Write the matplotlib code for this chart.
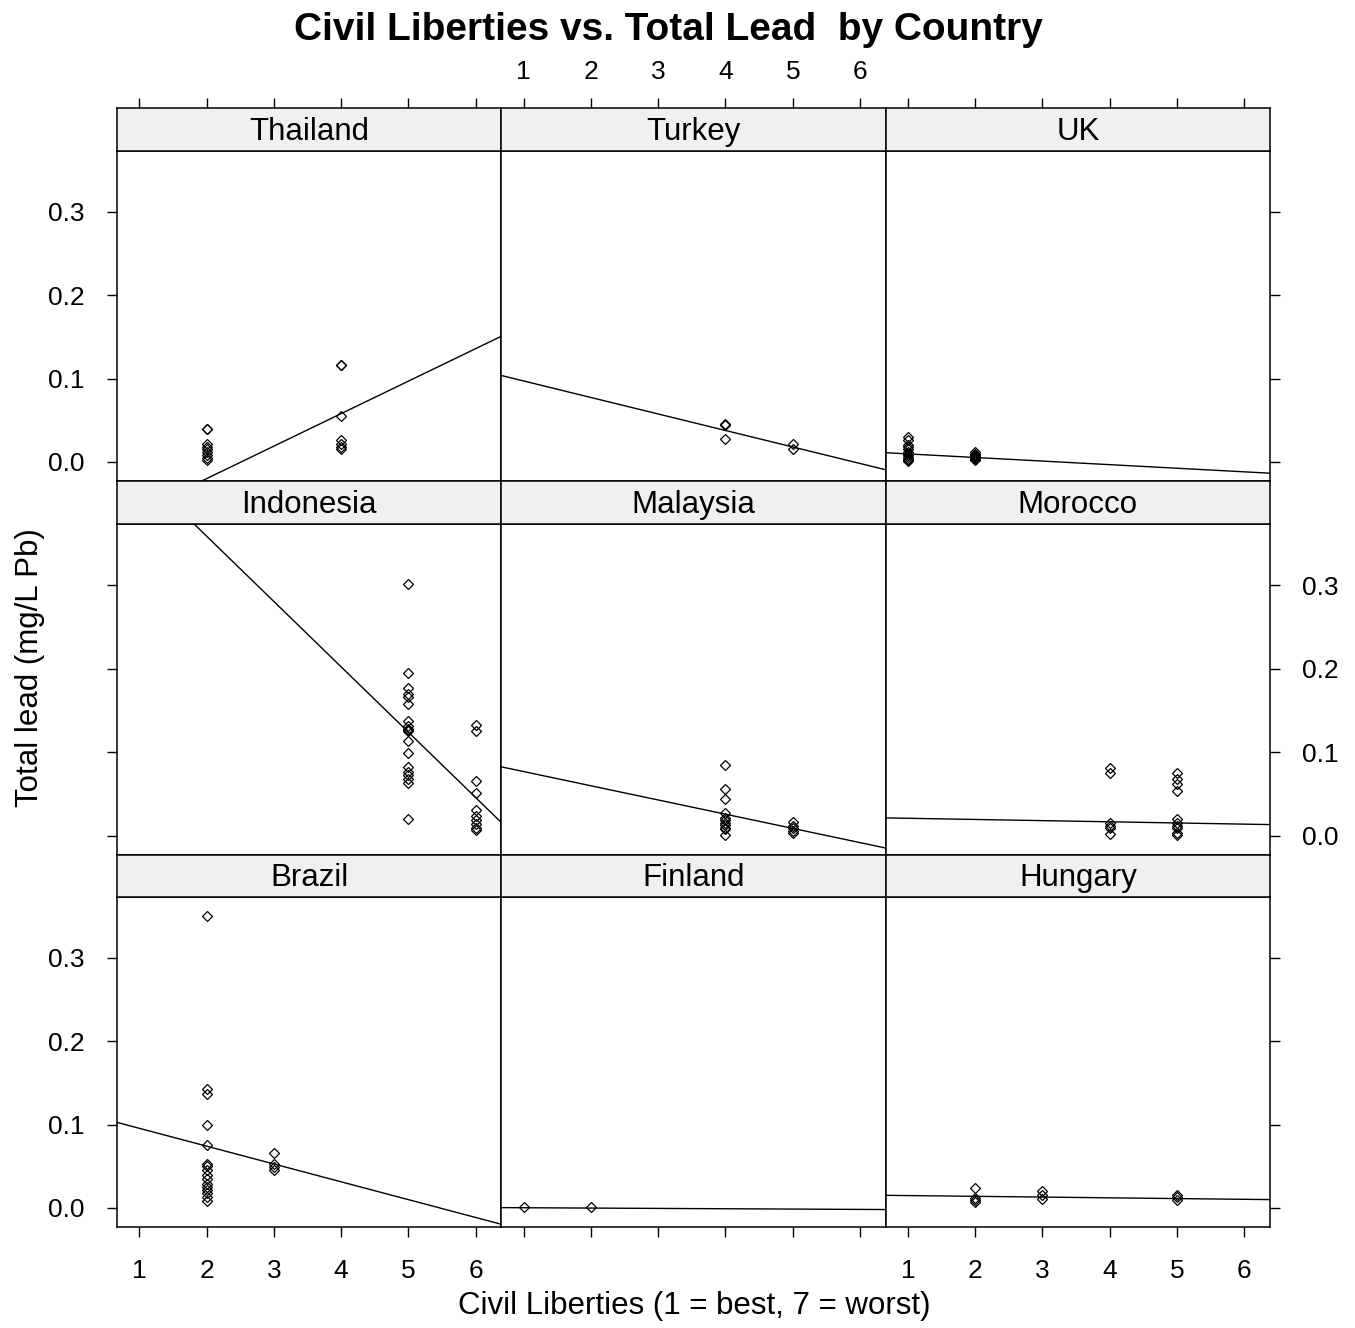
import matplotlib

matplotlib.use("Agg")

import matplotlib.pyplot as plt


plt.rcParams["font.family"] = ["Liberation Sans", "DejaVu Sans"]


# ==================================================
# DATA
# ==================================================

countries = [
    "Thailand", "Turkey", "UK",
    "Indonesia", "Malaysia", "Morocco",
    "Brazil", "Finland", "Hungary",
]

thailand_x = [2, 2, 2, 2, 2, 2, 2, 2, 2, 4, 4, 4, 4, 4, 4, 4]
thailand_y = [0.040, 0.040, 0.022, 0.018, 0.015, 0.012, 0.008, 0.005, 0.002,
              0.116, 0.116, 0.055, 0.026, 0.022, 0.018, 0.016]

turkey_x = [4, 4, 4, 5, 5]
turkey_y = [0.046, 0.044, 0.027, 0.022, 0.015]

uk_x = [1, 1, 1, 1, 1, 1, 1, 1, 1, 1, 1, 1,
        2, 2, 2, 2, 2, 2, 2, 2, 2]
uk_y = [0.030, 0.026, 0.020, 0.018, 0.015, 0.012, 0.010, 0.008, 0.006, 0.004, 0.002, 0.001,
        0.012, 0.010, 0.008, 0.007, 0.006, 0.005, 0.004, 0.003, 0.002]

indonesia_x = [5, 5, 5, 5, 5, 5, 5, 5, 5, 5, 5, 5, 5, 5, 5, 5, 5, 5, 5,
               6, 6, 6, 6, 6, 6, 6, 6, 6, 6]
indonesia_y = [0.301, 0.195, 0.177, 0.170, 0.166, 0.158, 0.138, 0.131, 0.128, 0.127,
               0.125, 0.113, 0.099, 0.083, 0.077, 0.073, 0.068, 0.063, 0.020,
               0.133, 0.126, 0.066, 0.051, 0.031, 0.024, 0.019, 0.014, 0.010, 0.007]

malaysia_x = [4, 4, 4, 4, 4, 4, 4, 4, 4, 4, 4, 5, 5, 5, 5, 5]
malaysia_y = [0.085, 0.056, 0.044, 0.028, 0.022, 0.019, 0.016, 0.013, 0.010, 0.008, 0.001,
              0.017, 0.012, 0.009, 0.006, 0.004]

morocco_x = [4, 4, 4, 4, 4, 4, 5, 5, 5, 5, 5, 5, 5, 5, 5, 5]
morocco_y = [0.081, 0.075, 0.016, 0.012, 0.009, 0.002,
             0.075, 0.068, 0.062, 0.054, 0.020, 0.016, 0.012, 0.009, 0.004, 0.001]

brazil_x = [2, 2, 2, 2, 2, 2, 2, 2, 2, 2, 2, 2, 2, 2, 2, 2, 3, 3, 3, 3]
brazil_y = [0.350, 0.143, 0.137, 0.100, 0.076, 0.053, 0.050, 0.045, 0.039, 0.035,
            0.029, 0.025, 0.021, 0.018, 0.013, 0.008,
            0.066, 0.053, 0.049, 0.045]

finland_x = [1, 2]
finland_y = [0.001, 0.001]

hungary_x = [2, 2, 2, 2, 3, 3, 3, 5, 5, 5]
hungary_y = [0.024, 0.012, 0.009, 0.007, 0.020, 0.016, 0.011, 0.016, 0.013, 0.010]

panel_x = [thailand_x, turkey_x, uk_x, indonesia_x, malaysia_x,
           morocco_x, brazil_x, finland_x, hungary_x]
panel_y = [thailand_y, turkey_y, uk_y, indonesia_y, malaysia_y,
           morocco_y, brazil_y, finland_y, hungary_y]

# least squares lines as drawn in the reference
fit_intercept = [-0.098, 0.117, 0.014, 0.515, 0.094, 0.0225, 0.117, 0.0007, 0.0158]
fit_slope = [0.039, -0.0198, -0.0043, -0.0782, -0.0170, -0.0014, -0.0214, -0.0004, -0.0009]

x_ticks = [1, 2, 3, 4, 5, 6]
y_ticks = [0.0, 0.1, 0.2, 0.3]
y_tick_labels = ["0.0", "0.1", "0.2", "0.3"]


# ==================================================
# LAYOUT
# ==================================================

W, H = 1355, 1328

fig = plt.figure(figsize=(W / 100, H / 100), dpi=100)

grid_left = 117
col_width = (1270 - 117) / 3

strip_top = [108, 481, 855]
panel_top = [151, 524, 897]
panel_bottom = [481, 855, 1227]

XLIM = (0.67, 6.38)
YLIM = (-0.0228, 0.373)

TICK_LEN = 7.2
TICK_SIZE = 19
STRIP_SIZE = 22.5


def _frac(left, top, width, height):
    return [left / W, 1 - (top + height) / H, width / W, height / H]


for i, name in enumerate(countries):

    row, col = divmod(i, 3)

    left = grid_left + col * col_width

    ax = fig.add_axes(
        _frac(left, panel_top[row], col_width,
              panel_bottom[row] - panel_top[row])
    )

    strip = fig.add_axes(
        _frac(left, strip_top[row], col_width,
              panel_top[row] - strip_top[row])
    )

    ax.plot(
        panel_x[i],
        panel_y[i],
        linestyle="none",
        marker="D",
        markersize=5,
        markerfacecolor="none",
        markeredgecolor="black",
        markeredgewidth=0.9
    )

    ax.axline(
        (0, fit_intercept[i]),
        slope=fit_slope[i],
        color="black",
        linewidth=1.0
    )

    ax.set_xlim(*XLIM)
    ax.set_ylim(*YLIM)

    ax.set_xticks(x_ticks)
    ax.set_yticks(y_ticks)
    ax.set_yticklabels(y_tick_labels)

    ax.tick_params(
        direction="out",
        length=TICK_LEN,
        width=1.0,
        labelsize=TICK_SIZE,
        bottom=(row == 2),
        labelbottom=(row == 2 and col != 1),
        top=False,
        labeltop=False,
        left=(col == 0),
        labelleft=(col == 0 and row != 1),
        right=(col == 2),
        labelright=(col == 2 and row == 1),
    )

    ax.tick_params(axis="x", pad=16)
    ax.tick_params(axis="y", which="both", pad=16)

    for side in ax.spines.values():
        side.set_linewidth(1.1)
        side.set_color("black")

    # strip with the country name
    strip.set_facecolor("#f0f0f0")
    strip.set_xlim(*XLIM)
    strip.set_ylim(0, 1)
    strip.set_yticks([])
    strip.set_xticks(x_ticks)

    strip.tick_params(
        direction="out",
        length=TICK_LEN,
        width=1.0,
        labelsize=TICK_SIZE,
        pad=10,
        bottom=False,
        labelbottom=False,
        top=(row == 0),
        labeltop=(row == 0 and col == 1),
    )

    for side in strip.spines.values():
        side.set_linewidth(1.1)
        side.set_color("black")

    strip.text(
        0.5, 0.45,
        name,
        transform=strip.transAxes,
        ha="center",
        va="center",
        fontsize=STRIP_SIZE
    )


fig.text(
    668 / W, 1 - 30 / H,
    "Civil Liberties vs. Total Lead  by Country",
    ha="center",
    va="center",
    fontsize=28,
    fontweight="bold"
)

fig.text(
    694 / W, 1 - 1306 / H,
    "Civil Liberties (1 = best, 7 = worst)",
    ha="center",
    va="center",
    fontsize=STRIP_SIZE
)

fig.text(
    30 / W, 1 - 668 / H,
    "Total lead (mg/L Pb)",
    ha="center",
    va="center",
    rotation=90,
    fontsize=STRIP_SIZE
)


fig.savefig("out.png", dpi=100)

plt.close(fig)
